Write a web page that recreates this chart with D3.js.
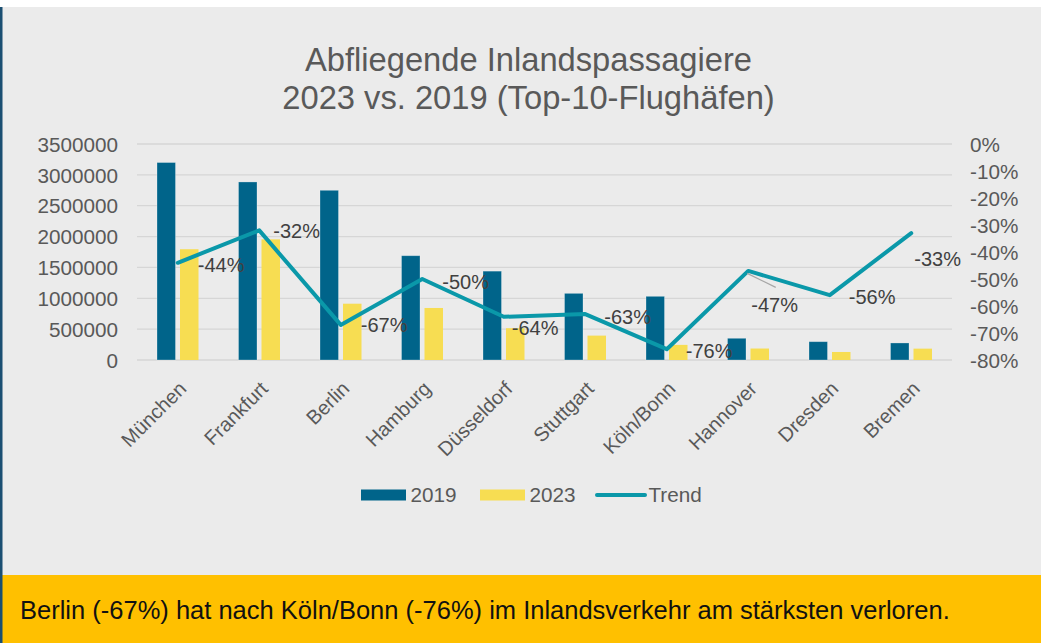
<!DOCTYPE html>
<html>
<head>
<meta charset="utf-8">
<script src="https://cdn.jsdelivr.net/npm/d3@7"></script>
<style>
  html, body { margin: 0; padding: 0; background: #ffffff; }
  svg { display: block; font-family: "Liberation Sans", Arial, sans-serif; }
</style>
</head>
<body>
<svg id="chart" width="1041" height="643"></svg>
<script>
// ---- data ----
const categories = ["München", "Frankfurt", "Berlin", "Hamburg", "Düsseldorf", "Stuttgart", "Köln/Bonn", "Hannover", "Dresden", "Bremen"];
const values2019 = [3200000, 2885000, 2750000, 1690000, 1440000, 1080000, 1032000, 352000, 297000, 276000];
const values2023 = [1795000, 1955000, 912000, 843000, 515000, 395000, 245000, 186000, 130000, 184000];
const trend = [-0.44, -0.32, -0.67, -0.50, -0.64, -0.63, -0.76, -0.47, -0.56, -0.33];
const trendLabels = ["-44%", "-32%", "-67%", "-50%", "-64%", "-63%", "-76%", "-47%", "-56%", "-33%"];
const leftTicks = [0, 500000, 1000000, 1500000, 2000000, 2500000, 3000000, 3500000];
const rightTicks = [0, -0.1, -0.2, -0.3, -0.4, -0.5, -0.6, -0.7, -0.8];
const seriesNames = ["2019", "2023", "Trend"];
const titleLines = ["Abfliegende Inlandspassagiere", "2023 vs. 2019 (Top-10-Flughäfen)"];
const footnote = "Berlin (-67%) hat nach Köln/Bonn (-76%) im Inlandsverkehr am stärksten verloren.";

// ---- label layout (offsets from each trend point, px) ----
const labelOffsets = [[20, 2], [14, 1], [20, 0], [20, 3], [8, 11], [19, 3], [19, 2], [3, 34], [19, 1.5], [3, 26]];

// ---- styles ----
const colors = { c2019: "#00648a", c2023: "#f7dd52", trend: "#0a98a9", grid: "#d6d6d6", axisText: "#595959", label: "#404040" };
const FONT = "'Liberation Sans', Arial, sans-serif";

const svg = d3.select("#chart");
const W = 1041, H = 643;

// background
svg.append("rect").attr("x", 0).attr("y", 0).attr("width", W).attr("height", H).attr("fill", "#ffffff");
svg.append("rect").attr("x", 0).attr("y", 7).attr("width", W).attr("height", H - 7).attr("fill", "#ebebeb");
svg.append("rect").attr("x", 0).attr("y", 575).attr("width", W).attr("height", H - 575).attr("fill", "#ffc000");
svg.append("rect").attr("x", 0).attr("y", 7).attr("width", 2.5).attr("height", H - 7).attr("fill", "#1b4f72");

// plot area
const plot = { left: 137, right: 952, top: 144, bottom: 360 };

const x0 = d3.scaleBand().domain(categories).range([plot.left, plot.right]).paddingInner(0).paddingOuter(0);
const x1 = d3.scaleBand().domain(["2019", "2023"]).range([-20.75, 20.75]).paddingInner(4.5 / 23).paddingOuter(0);
const yL = d3.scaleLinear().domain([0, 3500000]).range([plot.bottom, plot.top]);
const yR = d3.scaleLinear().domain([-0.8, 0]).range([plot.bottom, plot.top]);
const cx = c => x0(c) + x0.bandwidth() / 2;

// gridlines
svg.append("g").selectAll("line").data(leftTicks).join("line")
  .attr("x1", plot.left).attr("x2", plot.right)
  .attr("y1", d => yL(d)).attr("y2", d => yL(d))
  .attr("stroke", colors.grid).attr("stroke-width", 1.3);

// left axis labels
const leftAxis = d3.axisLeft(yL).tickValues(leftTicks).tickFormat(d3.format("d")).tickSize(0).tickPadding(0);
const gL = svg.append("g").attr("transform", `translate(118,0)`).call(leftAxis);
gL.attr("font-family", FONT);
gL.select(".domain").remove();
gL.selectAll("text").attr("fill", colors.axisText).attr("font-size", "20.7px").attr("dy", "0.35em");

// right axis labels
const rightAxis = d3.axisRight(yR).tickValues(rightTicks).tickFormat(d => d3.format(".0%")(d).replace("−", "-")).tickSize(0).tickPadding(0);
const gR = svg.append("g").attr("transform", `translate(970,0)`).call(rightAxis);
gR.attr("font-family", FONT);
gR.select(".domain").remove();
gR.selectAll("text").attr("fill", colors.axisText).attr("font-size", "20.7px").attr("dy", "0.35em");

// bars
const groups = svg.append("g").selectAll("g").data(categories).join("g")
  .attr("transform", c => `translate(${cx(c)},0)`);
groups.append("rect")
  .attr("x", x1("2019")).attr("width", x1.bandwidth())
  .attr("y", (c, i) => yL(values2019[i])).attr("height", (c, i) => yL(0) - yL(values2019[i]))
  .attr("fill", colors.c2019).attr("stroke", "rgba(255,255,255,0.35)").attr("stroke-width", 0.8);
groups.append("rect")
  .attr("x", x1("2023")).attr("width", x1.bandwidth())
  .attr("y", (c, i) => yL(values2023[i])).attr("height", (c, i) => yL(0) - yL(values2023[i]))
  .attr("fill", colors.c2023);

// trend line
const line = d3.line().x((d, i) => cx(categories[i])).y(d => yR(d));
svg.append("path").datum(trend).attr("d", line)
  .attr("fill", "none").attr("stroke", colors.trend).attr("stroke-width", 4)
  .attr("stroke-linejoin", "round").attr("stroke-linecap", "round");

// leader line for Hannover label
{
  const i = 7;
  const px = cx(categories[i]), py = yR(trend[i]);
  svg.append("line").attr("x1", px - 1).attr("y1", py + 2.5).attr("x2", px + 27.5).attr("y2", py + 16.5)
    .attr("stroke", "#a6a6a6").attr("stroke-width", 1.3);
}

// data labels
svg.append("g").selectAll("text").data(trend).join("text")
  .attr("x", (d, i) => cx(categories[i]) + labelOffsets[i][0])
  .attr("y", (d, i) => yR(d) + labelOffsets[i][1])
  .attr("dy", "0.35em")
  .attr("font-size", "20px").attr("fill", colors.label)
  .text((d, i) => trendLabels[i]);

// category labels
svg.append("g").selectAll("text").data(categories).join("text")
  .attr("transform", c => `translate(${cx(c) + 5},385) rotate(-45)`)
  .attr("text-anchor", "end").attr("dy", "0.35em")
  .attr("font-size", "20px").attr("fill", colors.axisText)
  .text(c => c);

// title
svg.append("g").selectAll("text").data(titleLines).join("text")
  .attr("x", 528.5).attr("y", (d, i) => 71 + i * 37.5)
  .attr("text-anchor", "middle").attr("font-size", "32.7px").attr("fill", colors.axisText)
  .text(d => d);

// legend
const legend = svg.append("g");
const legendItems = [
  { name: seriesNames[0], x: 361, type: "rect", color: colors.c2019 },
  { name: seriesNames[1], x: 480, type: "rect", color: colors.c2023 },
  { name: seriesNames[2], x: 597, type: "line", color: colors.trend }
];
legendItems.forEach(it => {
  if (it.type === "rect") {
    legend.append("rect").attr("x", it.x).attr("y", 489.5).attr("width", 45).attr("height", 11).attr("fill", it.color);
  } else {
    legend.append("line").attr("x1", it.x).attr("x2", it.x + 48).attr("y1", 495).attr("y2", 495)
      .attr("stroke", it.color).attr("stroke-width", 4).attr("stroke-linecap", "round");
  }
  legend.append("text").attr("x", it.type === "rect" ? it.x + 49.5 : it.x + 51.5).attr("y", 495).attr("dy", "0.35em")
    .attr("font-size", "20.7px").attr("fill", colors.axisText).text(it.name);
});

// footnote
svg.append("text").attr("x", 20).attr("y", 619).attr("font-size", "25.5px").attr("fill", "#111111").text(footnote);
</script>
</body>
</html>
